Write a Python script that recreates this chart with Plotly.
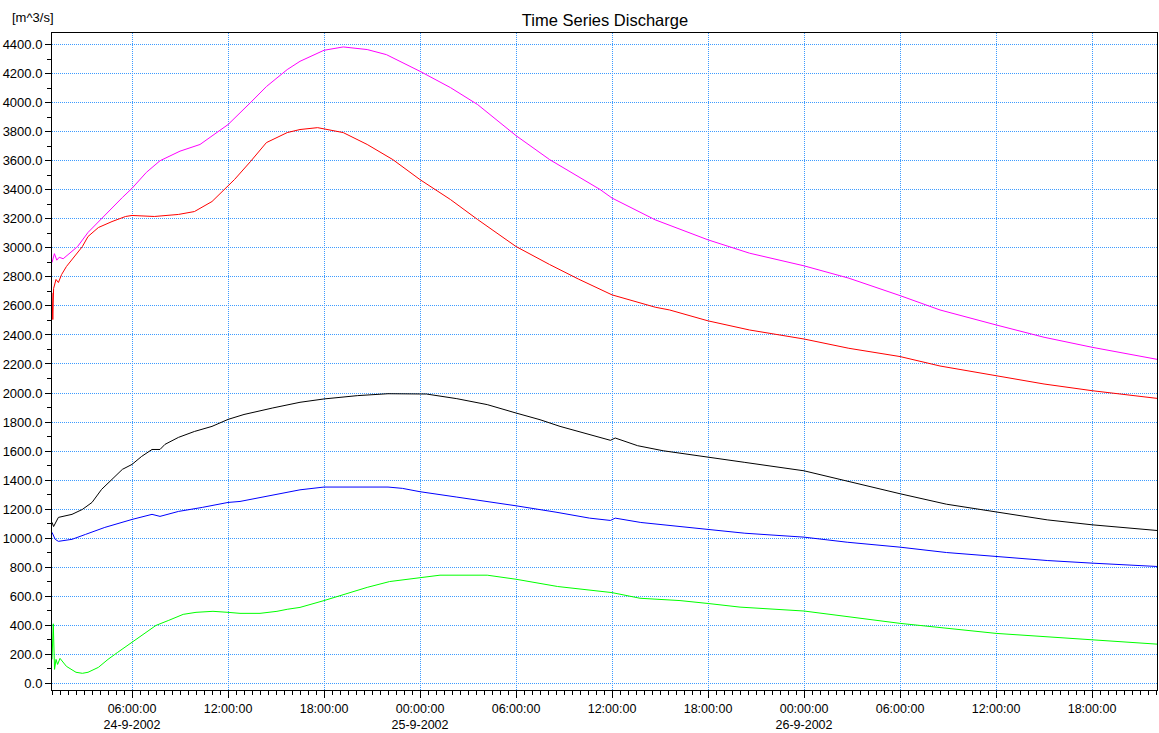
import pandas as pd
import plotly.graph_objects as go

BASE = pd.Timestamp("2002-09-24 00:00:00")

# hours after 24-9-2002 00:00 and discharge values [m^3/s]
magenta_h = [1.0, 1.15, 1.3, 1.45, 1.7, 2.6, 3.25, 3.9, 4.5, 5.4, 6.0, 6.9, 7.75, 9.0, 10.25,
             12.0, 13.4, 14.4, 15.7, 16.5, 18.0, 19.2, 20.7, 21.9, 24.0, 25.9, 27.6, 30.0,
             32.1, 35.25, 36.0, 38.7, 42.0, 44.6, 48.0, 50.8, 54.0, 56.5, 60.0, 63.0, 66.0, 70.06]
magenta_v = [2899, 2960, 2915, 2935, 2925, 3009, 3106, 3181, 3250, 3347, 3410, 3520, 3600, 3666, 3712,
             3849, 4000, 4111, 4228, 4285, 4361, 4384, 4366, 4331, 4216, 4104, 3987, 3773,
             3608, 3402, 3343, 3193, 3055, 2963, 2876, 2791, 2671, 2572, 2469, 2384, 2315, 2232]

red_h = [1.0, 1.05, 1.1, 1.25, 1.4, 1.6, 1.9, 2.4, 2.9, 3.25, 3.9, 4.75, 5.6, 6.0, 7.4, 8.9, 9.9,
         11.0, 11.8, 12.4, 13.4, 14.4, 15.7, 16.5, 17.6, 19.2, 20.7, 22.3, 24.0, 25.9, 27.6,
         30.0, 32.1, 33.9, 36.0, 38.7, 39.6, 42.0, 44.6, 48.0, 50.8, 54.0, 56.5, 60.0, 63.0,
         66.0, 70.06]
red_v = [2690, 2506, 2720, 2782, 2761, 2816, 2871, 2940, 3009, 3078, 3140, 3181, 3216, 3223, 3216,
         3230, 3250, 3319, 3402, 3470, 3594, 3725, 3794, 3815, 3828, 3794, 3712, 3608, 3470,
         3333, 3195, 3009, 2885, 2785, 2676, 2591, 2572, 2497, 2434, 2372, 2308, 2251, 2186,
         2120, 2062, 2016, 1963]

black_h = [1.0, 1.1, 1.4, 2.25, 2.9, 3.5, 4.1, 4.75, 5.4, 6.0, 6.6, 7.25, 7.75, 8.06, 8.9, 9.9,
           11.0, 12.0, 13.0, 14.8, 16.5, 18.0, 20.1, 22.0, 24.0, 24.4, 26.3, 28.2, 30.0, 31.5,
           32.75, 34.6, 35.9, 36.2, 37.6, 39.2, 41.5, 44.3, 48.0, 50.7, 54.0, 56.9, 60.0,
           63.2, 66.0, 70.06]
black_v = [1109, 1080, 1143, 1164, 1198, 1246, 1336, 1405, 1474, 1508, 1563, 1611, 1611, 1646, 1694,
           1735, 1770, 1818, 1852, 1897, 1936, 1959, 1982, 1995, 1995, 1993, 1961, 1920, 1862,
           1816, 1770, 1713, 1674, 1690, 1637, 1602, 1568, 1522, 1464, 1391, 1306, 1234, 1179,
           1126, 1092, 1053]

blue_h = [1.0, 1.2, 1.4, 2.25, 3.1, 4.3, 6.0, 7.25, 7.75, 8.9, 10.4, 12.0, 12.75, 14.8, 16.5,
          18.0, 22.0, 22.9, 24.0, 26.3, 28.2, 30.0, 32.5, 34.6, 35.9, 36.2, 37.8, 40.25, 42.0,
          44.3, 48.0, 50.7, 54.0, 56.9, 60.0, 63.2, 66.0, 70.06]
blue_v = [1040, 992, 978, 992, 1026, 1074, 1129, 1164, 1150, 1184, 1212, 1246, 1253, 1299, 1333,
          1352, 1352, 1343, 1320, 1283, 1253, 1223, 1179, 1138, 1122, 1138, 1108, 1080, 1062,
          1034, 1007, 972, 938, 901, 874, 846, 828, 805]

green_h = [1.0, 1.08, 1.16, 1.25, 1.35, 1.5, 1.9, 2.5, 2.9, 3.25, 3.9, 4.5, 5.1, 5.75, 6.7, 7.5,
           8.3, 9.2, 10.0, 11.06, 12.0, 12.75, 14.0, 15.06, 15.7, 16.5, 18.0, 19.6, 20.7, 22.1,
           24.0, 25.25, 28.2, 30.0, 32.6, 36.0, 37.75, 40.25, 42.0, 44.0, 48.0, 54.0, 60.0,
           66.0, 70.06]
green_v = [165, 410, 96, 165, 130, 172, 117, 76, 69, 76, 110, 165, 213, 262, 337, 399,
           434, 475, 489, 496, 489, 482, 482, 496, 510, 523, 570, 627, 661, 701,
           729, 745, 745, 717, 667, 625, 586, 570, 550, 525, 498, 413, 344,
           298, 270]

tick_hours = [6, 12, 18, 24, 30, 36, 42, 48, 54, 60, 66]
tick_text = ["06:00:00<br>24-9-2002", "12:00:00", "18:00:00", "00:00:00<br>25-9-2002",
             "06:00:00", "12:00:00", "18:00:00", "00:00:00<br>26-9-2002",
             "06:00:00", "12:00:00", "18:00:00"]

y_ticks = list(range(0, 4401, 200))
y_text = [f"{v:.1f}" for v in y_ticks]


def t(hours):
    return [BASE + pd.Timedelta(hours=h) for h in hours]


series = [
    (magenta_h, magenta_v, "#ff00ff"),
    (red_h, red_v, "#ff0000"),
    (black_h, black_v, "#000000"),
    (blue_h, blue_v, "#0000ff"),
    (green_h, green_v, "#00ff00"),
]

fig = go.Figure()
for hh, vv, col in series:
    fig.add_trace(go.Scatter(x=t(hh), y=vv, mode="lines",
                             line=dict(color=col, width=1), showlegend=False,
                             hoverinfo="skip"))

W, H = 1159, 733
L, R, T, B = 52, 2, 33, 43
pw, ph = W - L - R, H - T - B

font = "Liberation Sans, Arial, sans-serif"
grid_col = "#3d9bff"
fig.update_layout(
    width=W, height=H,
    margin=dict(l=L, r=R, t=T, b=B, autoexpand=False),
    paper_bgcolor="white", plot_bgcolor="white",
    font=dict(family=font, size=13, color="black"),
    title=dict(text="Time Series Discharge", x=605 / W, xanchor="center",
               y=1 - 20 / H, yanchor="middle", font=dict(size=16.5, family=font)),
    annotations=[dict(text="[m^3/s]", x=(10 - L) / pw, y=(H - B - 17) / ph,
                      xref="paper", yref="paper", xanchor="left", yanchor="middle",
                      showarrow=False, font=dict(size=13))],
)

fig.update_xaxes(
    type="date", automargin=False,
    range=[BASE + pd.Timedelta(hours=1.0), BASE + pd.Timedelta(hours=70.06)],
    tickvals=t(tick_hours), ticktext=tick_text,
    tickfont=dict(size=12.5), ticks="outside", ticklen=7, tickcolor="black",
    showline=True, linecolor="black", linewidth=1, mirror=True,
    showgrid=True, gridcolor=grid_col, griddash="1px,1px", gridwidth=1,
    zeroline=False,
    minor=dict(dtick=30 * 60 * 1000, tick0=BASE, ticks="outside", ticklen=4,
               tickcolor="black", showgrid=False),
)
fig.update_yaxes(
    range=[-46, 4480], automargin=False,
    tickvals=y_ticks, ticktext=y_text,
    ticks="outside", ticklen=6, tickcolor="black",
    showline=True, linecolor="black", linewidth=1, mirror=True,
    showgrid=True, gridcolor=grid_col, griddash="1px,1px", gridwidth=1,
    zeroline=False,
    minor=dict(dtick=100, tick0=0, ticks="outside", ticklen=4, tickcolor="black",
               showgrid=False),
)

fig.write_html(
    "out.html",
    config={"displayModeBar": False},
    post_script="document.body.style.margin='0';document.body.style.overflow='hidden';",
)
